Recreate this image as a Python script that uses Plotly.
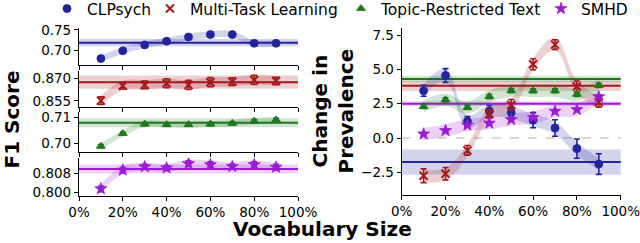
import plotly.graph_objects as go

# ---------------- data ----------------
vocab = [10, 20, 30, 40, 50, 60, 70, 80, 90]
x_tickvals = [0, 20, 40, 60, 80, 100]
x_ticktext = ["0%", "20%", "40%", "60%", "80%", "100%"]

series_names = ["CLPsych", "Multi-Task Learning", "Topic-Restricted Text", "SMHD"]

f1_clpsych = [0.681, 0.700, 0.714, 0.723, 0.733, 0.739, 0.739, 0.718, 0.718]
f1_clpsych_err = [0.003, 0.003, 0.003, 0.003, 0.004, 0.004, 0.003, 0.003, 0.003]
f1_mtl = [0.8552, 0.8651, 0.8656, 0.8667, 0.8656, 0.8674, 0.8678, 0.8689, 0.8682]
f1_mtl_err = [0.0025, 0.0022, 0.0025, 0.003, 0.003, 0.003, 0.0025, 0.003, 0.0025]
f1_topic = [0.6989, 0.7037, 0.7073, 0.7071, 0.7071, 0.7073, 0.7076, 0.7084, 0.7089]
f1_topic_err = [0.0006, 0.0006, 0.0006, 0.0006, 0.0006, 0.0006, 0.0006, 0.0006, 0.0006]
f1_smhd = [0.8014, 0.8093, 0.8107, 0.8102, 0.8120, 0.8116, 0.8108, 0.8116, 0.8105]
f1_smhd_err = [0.0012, 0.0012, 0.0010, 0.0010, 0.0012, 0.0012, 0.0010, 0.0012, 0.0012]

f1_full = [0.7195, 0.8674, 0.7078, 0.8098]
f1_full_ci = [0.009, 0.0044, 0.0017, 0.0019]

prev_clpsych = [3.44, 4.55, 1.22, 1.97, 1.85, 1.30, 0.73, -0.77, -1.90]
prev_clpsych_err = [0.40, 0.50, 0.35, 0.40, 0.35, 0.55, 0.60, 0.70, 0.75]
prev_mtl = [-2.75, -2.60, -0.90, 1.75, 2.40, 5.37, 6.80, 3.75, 2.60]
prev_mtl_err = [0.50, 0.45, 0.35, 0.30, 0.40, 0.40, 0.35, 0.40, 0.35]
prev_topic = [2.30, 2.78, 2.23, 3.02, 3.45, 3.44, 3.44, 3.18, 3.83]
prev_topic_err = [0.15, 0.15, 0.15, 0.15, 0.15, 0.15, 0.15, 0.15, 0.15]
prev_smhd = [0.29, 0.54, 0.93, 1.08, 1.34, 1.50, 1.95, 2.07, 3.00]
prev_smhd_err = [0.10, 0.10, 0.10, 0.10, 0.10, 0.10, 0.10, 0.10, 0.15]

prev_full = [-1.75, 3.80, 4.30, 2.50]
prev_full_ci = [0.92, 0.37, 0.24, 0.17]

# ---------------- style ----------------
colors = ["#23239b", "#a3191c", "#1e781e", "#9b1bd4"]
fills = ["rgba(35,35,155,0.20)", "rgba(163,25,28,0.20)",
         "rgba(30,120,30,0.20)", "rgba(155,27,212,0.20)"]
symbols = ["circle", "x-thin", "triangle-up", "star"]
msizes = [8, 8, 8, 9]
FONT = "DejaVu Sans"
W, H = 640, 243


def py(p):
    return 1 - p / H


left_x = [79 / W, 298 / W]
right_x = [401.7 / W, 620.7 / W]
left_doms = [[py(65), py(28)], [py(106.7), py(71)], [py(151.7), py(112)], [py(195.7), py(158)]]
left_ranges = [[0.6655, 0.7548], [0.8512, 0.8748], [0.6968, 0.7119], [0.7985, 0.8144]]
left_ticks = [([0.70, 0.75], ["0.70", "0.75"]),
              ([0.855, 0.870], ["0.855", "0.870"]),
              ([0.70, 0.71], ["0.70", "0.71"]),
              ([0.800, 0.808], ["0.800", "0.808"])]
band_w_left = [0.008, 0.0032, 0.0012, 0.0017]
band_w_right = 0.45

f1_vals = [f1_clpsych, f1_mtl, f1_topic, f1_smhd]
f1_errs = [f1_clpsych_err, f1_mtl_err, f1_topic_err, f1_smhd_err]
prev_vals = [prev_clpsych, prev_mtl, prev_topic, prev_smhd]
prev_errs = [prev_clpsych_err, prev_mtl_err, prev_topic_err, prev_smhd_err]

fig = go.Figure()
shapes = []


def add_band(xa, ya, vals, w, fill):
    fig.add_trace(go.Scatter(x=vocab, y=[v + w for v in vals], xaxis=xa, yaxis=ya,
                             mode="lines", line=dict(width=0, shape="spline", smoothing=1.2),
                             showlegend=False, hoverinfo="skip"))
    fig.add_trace(go.Scatter(x=vocab, y=[v - w for v in vals], xaxis=xa, yaxis=ya,
                             mode="lines", line=dict(width=0, shape="spline", smoothing=1.2),
                             fill="tonexty", fillcolor=fill,
                             showlegend=False, hoverinfo="skip"))


def marker_trace(i, xa, ya, vals, errs, legend=None):
    m = dict(symbol=symbols[i], size=msizes[i], color=colors[i])
    if symbols[i] == "x-thin":
        m["line"] = dict(width=2, color=colors[i])
    else:
        m["line"] = dict(width=0.8, color=colors[i])
    return go.Scatter(x=vocab, y=vals, xaxis=xa, yaxis=ya, mode="markers",
                      marker=m, name=series_names[i],
                      error_y=dict(type="data", array=errs, color=colors[i],
                                   thickness=1.6, width=3),
                      showlegend=legend is not None,
                      legend=legend if legend else "legend")


# left panels
for i in range(4):
    k = i + 1
    xa = "x" if k == 1 else f"x{k}"
    ya = "y" if k == 1 else f"y{k}"
    add_band(xa, ya, f1_vals[i], band_w_left[i], fills[i])
    fig.add_trace(marker_trace(i, xa, ya, f1_vals[i], f1_errs[i]))
    shapes.append(dict(type="rect", xref=f"{xa} domain", yref=ya, x0=0, x1=1,
                       y0=f1_full[i] - f1_full_ci[i], y1=f1_full[i] + f1_full_ci[i],
                       fillcolor=fills[i], line=dict(width=0), layer="below"))
    shapes.append(dict(type="line", xref=f"{xa} domain", yref=ya, x0=0, x1=1,
                       y0=f1_full[i], y1=f1_full[i],
                       line=dict(color=colors[i], width=2), layer="below"))

# right panel
shapes.append(dict(type="line", xref="x5 domain", yref="y5", x0=0, x1=1, y0=0, y1=0,
                   line=dict(color="#b0b0b0", width=1.2, dash="dash"), layer="below"))
for i in range(4):
    shapes.append(dict(type="rect", xref="x5 domain", yref="y5", x0=0, x1=1,
                       y0=prev_full[i] - prev_full_ci[i], y1=prev_full[i] + prev_full_ci[i],
                       fillcolor=fills[i], line=dict(width=0), layer="below"))
    shapes.append(dict(type="line", xref="x5 domain", yref="y5", x0=0, x1=1,
                       y0=prev_full[i], y1=prev_full[i],
                       line=dict(color=colors[i], width=2), layer="below"))
for i in range(4):
    add_band("x5", "y5", prev_vals[i], band_w_right, fills[i])
legend_ids = ["legend", "legend2", "legend3", "legend4"]
for i in range(4):
    fig.add_trace(marker_trace(i, "x5", "y5", prev_vals[i], prev_errs[i], legend=legend_ids[i]))

axis_common = dict(showline=True, linecolor="black", linewidth=1.2, ticks="outside",
                   ticklen=4, tickwidth=1.2, tickcolor="black", showgrid=False,
                   zeroline=False, automargin=False, ticklabeloverflow="allow",
                   tickfont=dict(family=FONT, size=13.5, color="black"))

layout = dict(width=W, height=H,
              margin=dict(l=0, r=0, t=0, b=0, pad=0, autoexpand=False),
              paper_bgcolor="white", plot_bgcolor="white",
              font=dict(family=FONT, color="black"), shapes=shapes)

for i in range(4):
    k = i + 1
    xk = "xaxis" if k == 1 else f"xaxis{k}"
    yk = "yaxis" if k == 1 else f"yaxis{k}"
    ya = "y" if k == 1 else f"y{k}"
    xa = "x" if k == 1 else f"x{k}"
    layout[xk] = dict(axis_common, domain=left_x, range=[0, 100], anchor=ya,
                      tickvals=x_tickvals, ticktext=x_ticktext,
                      showticklabels=(k == 4))
    layout[yk] = dict(axis_common, domain=left_doms[i], range=left_ranges[i], anchor=xa,
                      tickvals=left_ticks[i][0], ticktext=left_ticks[i][1])

layout["xaxis5"] = dict(axis_common, domain=right_x, range=[0, 100], anchor="y5",
                        tickvals=x_tickvals, ticktext=x_ticktext)
layout["yaxis5"] = dict(axis_common, domain=[py(195), py(28)], range=[-4.15, 8.01], anchor="x5",
                        tickvals=[-2.5, 0, 2.5, 5.0, 7.5],
                        ticktext=["\u22122.5", "0.0", "2.5", "5.0", "7.5"])

legend_x = [47, 150, 341, 541]
for lid, lx in zip(legend_ids, legend_x):
    layout[lid] = dict(x=lx / W, xanchor="left", y=py(-8), yanchor="top",
                       orientation="h", bgcolor="rgba(0,0,0,0)", borderwidth=0,
                       font=dict(family=FONT, size=15.5, color="black"),
                       tracegroupgap=0, itemwidth=30)

fig.update_layout(**layout)

fig.add_annotation(text="<b>F1 Score</b>", x=11.5 / W, y=py(120), xref="paper", yref="paper",
                   textangle=-90, showarrow=False, xanchor="center", yanchor="middle",
                   font=dict(family=FONT, size=20, color="black"))
fig.add_annotation(text="<b>Change in<br>Prevalence</b>", x=333 / W, y=py(111.5),
                   xref="paper", yref="paper", textangle=-90, showarrow=False,
                   xanchor="center", yanchor="middle",
                   font=dict(family=FONT, size=20, color="black"))
fig.add_annotation(text="<b>Vocabulary Size</b>", x=322 / W, y=py(229), xref="paper",
                   yref="paper", showarrow=False, xanchor="center", yanchor="middle",
                   font=dict(family=FONT, size=20, color="black"))

fig.write_html("out.html", config={"displayModeBar": False},
               post_script="document.body.style.margin='0px';")
